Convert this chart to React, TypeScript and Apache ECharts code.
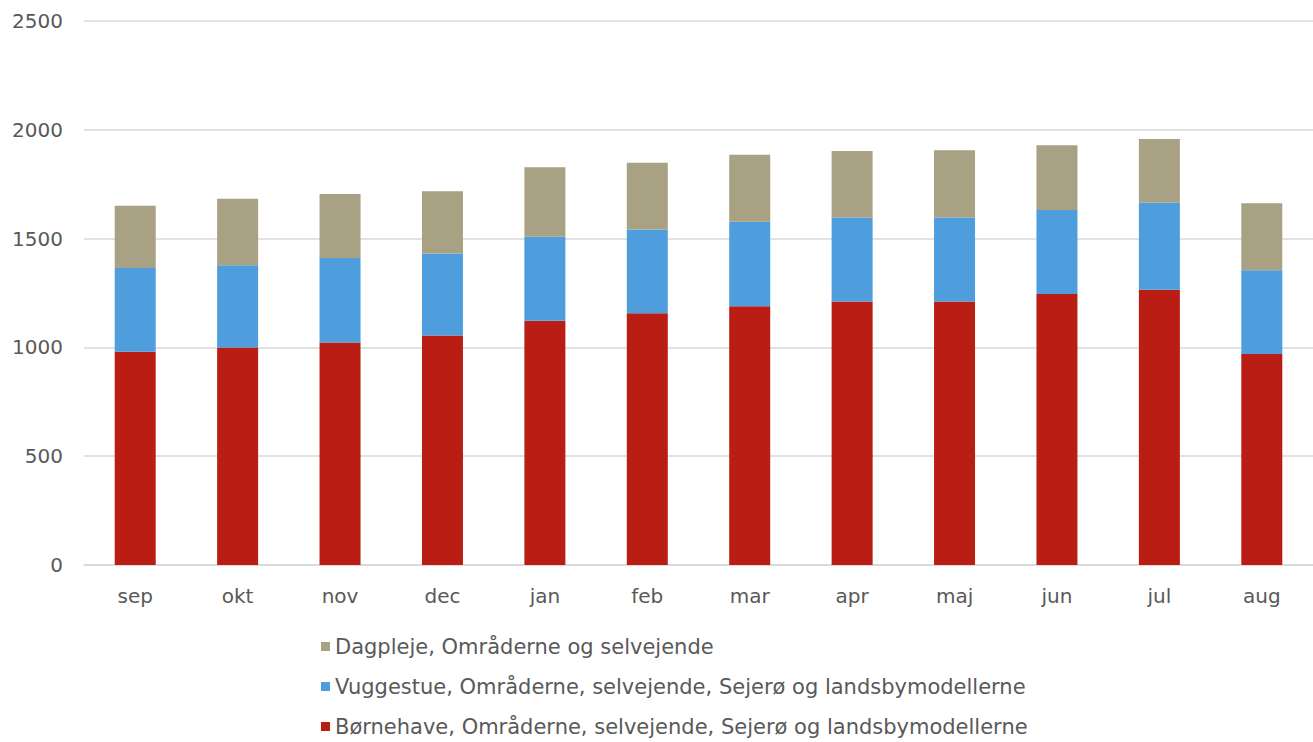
import React, { useEffect, useRef } from "react";
import * as echarts from "echarts";

const categories = ["sep", "okt", "nov", "dec", "jan", "feb", "mar", "apr", "maj", "jun", "jul", "aug"];
const boernehave = [980, 1000, 1023, 1055, 1123, 1157, 1189, 1211, 1211, 1245, 1265, 970];
const vuggestue = [385, 378, 388, 376, 386, 385, 388, 386, 386, 387, 400, 384];
const dagpleje = [286, 305, 294, 287, 319, 307, 308, 306, 309, 297, 293, 308];
const seriesNames = [
  "Dagpleje, Områderne og selvejende",
  "Vuggestue, Områderne, selvejende, Sejerø og landsbymodellerne",
  "Børnehave, Områderne, selvejende, Sejerø og landsbymodellerne",
];
const yTicks = { min: 0, max: 2500, interval: 500 };

const FONT = "DejaVu Sans";
const TEXT = "#595959";

export default function App() {
  const ref = useRef<HTMLDivElement>(null);
  useEffect(() => {
    if (!ref.current) return;
    const chart = echarts.init(ref.current, undefined, { renderer: "svg" });
    chart.setOption({
      animation: false,
      backgroundColor: "#ffffff",
      grid: { left: 84, right: 0, top: 21, bottom: 177, containLabel: false },
      legend: {
        orient: "vertical",
        left: 316,
        top: 631,
        height: 130,
        itemWidth: 9,
        itemHeight: 9,
        itemGap: 19,
        icon: "rect",
        data: seriesNames,
        textStyle: { fontFamily: FONT, fontSize: 21, color: TEXT },
      },
      xAxis: {
        type: "category",
        data: categories,
        axisTick: { show: false },
        axisLine: { show: true, lineStyle: { color: "#d9d9d9", width: 1.5 } },
        axisLabel: { fontFamily: FONT, fontSize: 20, color: TEXT, margin: 21 },
      },
      yAxis: {
        type: "value",
        min: yTicks.min,
        max: yTicks.max,
        interval: yTicks.interval,
        axisLine: { show: false },
        axisTick: { show: false },
        axisLabel: {
          fontFamily: FONT,
          fontSize: 20,
          color: TEXT,
          margin: 21,
          formatter: (v: number) => String(v),
        },
        splitLine: { lineStyle: { color: "#d9d9d9", width: 1.5 } },
      },
      series: [
        { name: seriesNames[2], type: "bar", stack: "total", data: boernehave, barWidth: 41, itemStyle: { color: "#B91D14" } },
        { name: seriesNames[1], type: "bar", stack: "total", data: vuggestue, barWidth: 41, itemStyle: { color: "#4E9EDE" } },
        { name: seriesNames[0], type: "bar", stack: "total", data: dagpleje, barWidth: 41, itemStyle: { color: "#A8A183" } },
      ],
    });
    return () => chart.dispose();
  }, []);
  return (
    <div
      ref={ref}
      style={{ position: "fixed", left: 0, top: 0, width: 1313, height: 742 }}
    />
  );
}
